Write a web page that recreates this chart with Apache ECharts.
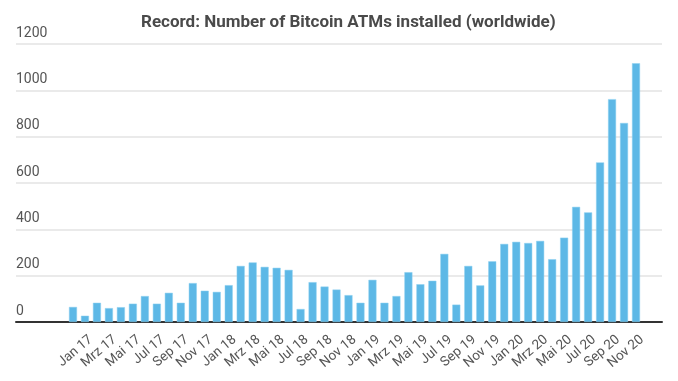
<!DOCTYPE html>
<html>
<head>
<meta charset="utf-8">
<script src="https://cdn.jsdelivr.net/npm/echarts@6/dist/echarts.min.js"></script>
<style>
html,body{margin:0;padding:0;background:#fff;}
#chart{width:678px;height:381px;}
</style>
</head>
<body>
<div id="chart"></div>
<script>
var categories = [
  'Jan 17','Feb 17','Mrz 17','Apr 17','Mai 17','Jun 17','Jul 17','Aug 17','Sep 17','Okt 17','Nov 17','Dez 17',
  'Jan 18','Feb 18','Mrz 18','Apr 18','Mai 18','Jun 18','Jul 18','Aug 18','Sep 18','Okt 18','Nov 18','Dez 18',
  'Jan 19','Feb 19','Mrz 19','Apr 19','Mai 19','Jun 19','Jul 19','Aug 19','Sep 19','Okt 19','Nov 19','Dez 19',
  'Jan 20','Feb 20','Mrz 20','Apr 20','Mai 20','Jun 20','Jul 20','Aug 20','Sep 20','Okt 20','Nov 20','Dez 20'
];
var atmsInstalled = [
  65, 27, 83, 60, 64, 79, 112, 79, 126, 83, 168, 135,
  130, 159, 242, 257, 238, 234, 225, 56, 172, 153, 140, 116,
  83, 182, 83, 112, 215, 163, 178, 294, 75, 242, 158, 262,
  337, 346, 341, 350, 271, 364, 497, 473, 689, 962, 859, 1117
];
var yTicks = [0, 200, 400, 600, 800, 1000, 1200];
var titleText = 'Record: Number of Bitcoin ATMs installed (worldwide)';

var yMin = yTicks[0], yMax = yTicks[yTicks.length - 1], yStep = yTicks[1] - yTicks[0];

var chart = echarts.init(document.getElementById('chart'), null, {renderer: 'canvas'});
chart.setOption({
  animation: false,
  backgroundColor: '#ffffff',
  title: {
    text: titleText,
    left: 136,
    top: 9,
    textStyle: {fontFamily: 'Roboto', fontSize: 17, fontWeight: 'bold', color: '#4a4a4a'}
  },
  grid: [
    {left: 16, right: 16, top: 44, bottom: 59},
    {left: 67, right: 36, top: 44, bottom: 59},
    {left: 85, right: 18, top: 44, bottom: 59}
  ],
  xAxis: [
    {type: 'category', gridIndex: 0, data: [''], axisTick: {show: false}, axisLabel: {show: false},
     axisLine: {show: true, lineStyle: {color: '#333333', width: 2}}},
    {type: 'category', gridIndex: 1, data: categories, axisTick: {show: false}, axisLabel: {show: false},
     axisLine: {show: false}},
    {type: 'category', gridIndex: 2, data: categories, axisTick: {show: false}, axisLine: {show: false},
     axisLabel: {interval: 1, rotate: 40, margin: 16, fontFamily: 'Roboto', fontSize: 13.5, color: '#555555'}}
  ],
  yAxis: [
    {type: 'value', gridIndex: 0, min: yMin, max: yMax, interval: yStep,
     axisLine: {show: false}, axisTick: {show: false},
     splitLine: {show: true, lineStyle: {color: '#e3e3e3', width: 1.5}},
     axisLabel: {inside: true, margin: 0, verticalAlign: 'bottom', align: 'left', padding: [0, 0, 4, 0],
                 formatter: function (v) { return String(v); },
                 fontFamily: 'Roboto', fontSize: 14, color: '#555555'}},
    {type: 'value', gridIndex: 1, min: yMin, max: yMax, interval: yStep, show: false, splitLine: {show: false}},
    {type: 'value', gridIndex: 2, min: yMin, max: yMax, interval: yStep, show: false, splitLine: {show: false}}
  ],
  series: [{
    type: 'bar',
    xAxisIndex: 1,
    yAxisIndex: 1,
    data: atmsInstalled,
    barWidth: 8,
    itemStyle: {color: '#5db8e6', borderColor: '#8fd0f0', borderWidth: 0.5},
    z: 1
  }]
});
</script>
</body>
</html>
